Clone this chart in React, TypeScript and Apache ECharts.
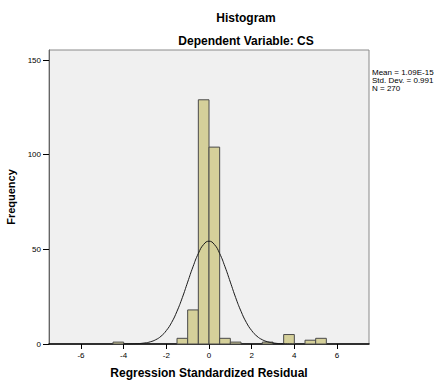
import React, { useEffect, useRef } from "react";
import * as echarts from "echarts";

// Histogram bins: [start, end, count]
const binStarts = [-4.5, -1.5, -1.0, -0.5, 0.0, 0.5, 1.0, 2.5, 3.5, 4.5, 5.0];
const binEnds = [-4.0, -1.0, -0.5, 0.0, 0.5, 1.0, 1.5, 3.0, 4.0, 5.0, 5.5];
const binCounts = [1, 3, 18, 129, 104, 3, 1, 1, 5, 2, 3];

// Normal curve
const curveX = [-4, -3.5, -3, -2.75, -2.5, -2.25, -2, -1.75, -1.5, -1.25, -1, -0.75, -0.5, -0.25, 0, 0.25, 0.5, 0.75, 1, 1.25, 1.5, 1.75, 2, 2.25, 2.5, 2.75, 3, 3.5, 4];
const curveY = [0.02, 0.11, 0.56, 1.16, 2.25, 4.1, 7.1, 11.4, 17.3, 24.5, 32.7, 40.8, 47.8, 52.6, 54.3, 52.6, 47.8, 40.8, 32.7, 24.5, 17.3, 11.4, 7.1, 4.1, 2.25, 1.16, 0.56, 0.11, 0.02];

const xTicks = [-6, -4, -2, 0, 2, 4, 6];
const yTicks = [0, 50, 100, 150];

const statsLines = ["Mean = 1.09E-15", "Std. Dev. = 0.991", "N = 270"];

const FONT = "Liberation Sans, Arial, sans-serif";

export default function App() {
  const ref = useRef<HTMLDivElement>(null);
  useEffect(() => {
    if (!ref.current) return;
    const chart = echarts.init(ref.current, null, { renderer: "svg" });
    const bars = binStarts.map((s, i) => [s, binEnds[i], binCounts[i]]);
    const curve = curveX.map((x, i) => [x, curveY[i]]);
    chart.setOption({
      animation: false,
      backgroundColor: "#ffffff",
      textStyle: { fontFamily: FONT },
      grid: {
        left: 49,
        top: 50,
        right: 71,
        bottom: 37,
        containLabel: false,
        outerBoundsMode: "none",
        show: true,
        backgroundColor: "#f0f0f0",
        borderColor: "#8a8a8a",
        borderWidth: 1,
      },
      graphic: [
        {
          type: "text",
          x: 246,
          y: 18,
          style: {
            text: "Histogram",
            font: `bold 12px ${FONT}`,
            fill: "#000",
            align: "center",
            verticalAlign: "middle",
          },
        },
        {
          type: "text",
          x: 246,
          y: 41,
          style: {
            text: "Dependent Variable: CS",
            font: `bold 12px ${FONT}`,
            fill: "#000",
            align: "center",
            verticalAlign: "middle",
          },
        },
        {
          type: "text",
          x: 372,
          y: 68,
          style: {
            text: statsLines.join("\n"),
            font: `8px ${FONT}`,
            lineHeight: 8,
            fill: "#000",
          },
        },
      ],
      xAxis: {
        type: "value",
        min: -7.5,
        max: 7.5,
        name: "Regression Standardized Residual",
        nameLocation: "middle",
        nameGap: 23,
        nameTextStyle: { fontFamily: FONT, fontWeight: "bold", fontSize: 12, color: "#000" },
        axisLine: { show: true, onZero: false, lineStyle: { color: "#000", width: 1.5 } },
        axisTick: { show: true, customValues: xTicks, length: 5, lineStyle: { color: "#000" } },
        axisLabel: { customValues: xTicks, fontSize: 8, color: "#000", fontFamily: FONT, margin: 7 },
        splitLine: { show: false },
      },
      yAxis: {
        type: "value",
        min: 0,
        max: 155.3,
        name: "Frequency",
        nameLocation: "middle",
        nameGap: 26,
        nameTextStyle: { fontFamily: FONT, fontWeight: "bold", fontSize: 11, color: "#000" },
        axisLine: { show: true, onZero: false, lineStyle: { color: "#666", width: 1 } },
        axisTick: { show: true, customValues: yTicks, length: 6, lineStyle: { color: "#000" } },
        axisLabel: { customValues: yTicks, fontSize: 8, color: "#000", fontFamily: FONT, margin: 8 },
        splitLine: { show: false },
      },
      series: [
        {
          type: "custom",
          data: bars,
          encode: { x: [0, 1], y: 2 },
          renderItem: (params: any, api: any) => {
            const p0 = api.coord([api.value(0), api.value(2)]);
            const p1 = api.coord([api.value(1), 0]);
            return {
              type: "rect",
              shape: { x: p0[0], y: p0[1], width: p1[0] - p0[0], height: p1[1] - p0[1] },
              style: { fill: "#d5d09a", stroke: "#4a4a4a", lineWidth: 1 },
            };
          },
          z: 2,
        },
        {
          type: "line",
          data: curve,
          smooth: true,
          showSymbol: false,
          lineStyle: { color: "#1a1a1a", width: 1 },
          z: 3,
        },
      ],
    });
    return () => chart.dispose();
  }, []);
  return (
    <div
      ref={ref}
      style={{ position: "fixed", left: 0, top: 0, width: 440, height: 381 }}
    />
  );
}
